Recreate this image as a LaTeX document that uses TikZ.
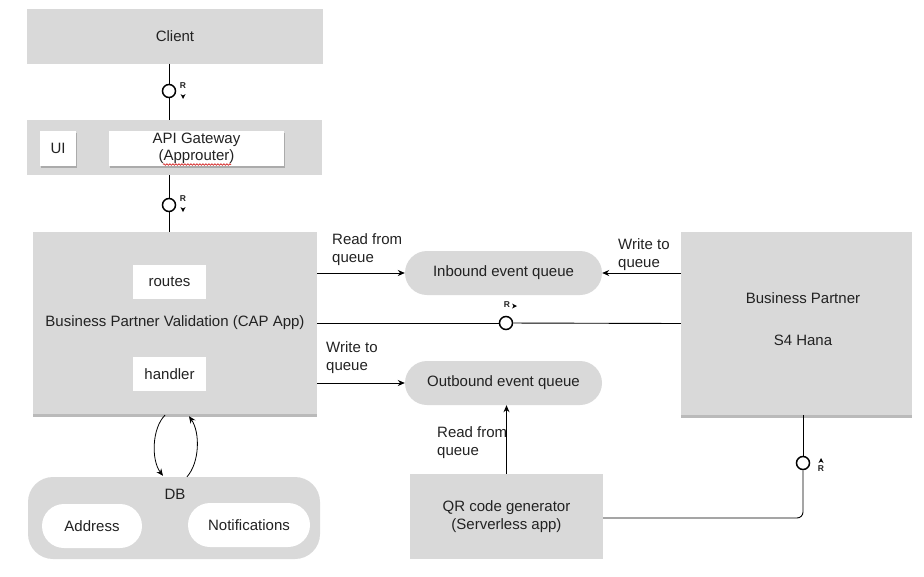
\documentclass[tikz,border=0pt]{standalone}
\usepackage{fontspec}
\setmainfont{Liberation Sans}
\usetikzlibrary{arrows.meta,shadows,calc,decorations.pathmorphing}
\definecolor{boxgray}{HTML}{D9D9D9}
\definecolor{txt}{HTML}{222222}
\begin{document}
\begin{tikzpicture}[x=1pt,y=-1pt,
  font=\fontsize{15}{18}\selectfont, text=txt,
  box/.style={fill=boxgray, draw=none, inner sep=0pt, align=center},
  shbox/.style={box, drop shadow={shadow xshift=0pt, shadow yshift=-3pt, opacity=0.45, fill=black!60}},
  wbox/.style={fill=white, draw=none, inner sep=0pt, align=center,
     drop shadow={shadow xshift=1pt, shadow yshift=-2pt, opacity=0.4, fill=black!60}},
  pill/.style={box, rounded corners=22pt},
  wpill/.style={fill=white, draw=none, inner sep=0pt, rounded corners=22pt, align=center},
  conn/.style={draw=black, line width=0.9pt},
  arr/.style={conn, -{Stealth[length=7pt,width=6pt]}},
  ring/.style={circle, draw=black, line width=1.5pt, fill=white, minimum size=13pt, inner sep=0pt},
  rlab/.style={font=\fontsize{8.5}{8.5}\selectfont\bfseries, inner sep=0pt},
  lbl/.style={align=left, anchor=north west, inner sep=0pt}
]
\useasboundingbox (0,0) rectangle (924,576);

% main boxes
\node[box, minimum width=296pt, minimum height=55pt] (client) at (175,36) {Client};
\node[box, minimum width=295pt, minimum height=55pt] (gwc) at (174.5,147.5) {};
\node[wbox, minimum width=36pt, minimum height=35pt] (ui) at (58,148.5) {UI};
\node[wbox, minimum width=175pt, minimum height=35pt] (api) at (196.5,148.5) {API Gateway\\[-1pt](Approuter)};
\draw[red!80!black, line width=0.6pt, decorate, decoration={snake, amplitude=0.8pt, segment length=3pt}] (163,164.5) -- (231,164.5);

\node[shbox, minimum width=284pt, minimum height=182pt] (cap) at (175,323) {Business Partner Validation (CAP App)};
\node[box, fill=white, minimum width=73pt, minimum height=34pt] (routes) at (169.5,282) {routes};
\node[box, fill=white, minimum width=73pt, minimum height=34pt] (handler) at (169.5,374) {handler};

\node[pill, minimum width=197pt, minimum height=44pt] (inb) at (503.5,273) {Inbound event queue};
\node[pill, minimum width=197pt, minimum height=44pt] (outb) at (503.5,383) {Outbound event queue};

\node[shbox, minimum width=231pt, minimum height=183pt] (bp) at (796.5,323.5) {};
\node[align=center, inner sep=0pt] (bpt) at (803,319.5) {Business Partner\\[24pt]S4 Hana};

\node[box, minimum width=193pt, minimum height=85pt] (qr) at (506.5,516.5) {QR code generator\\(Serverless app)};

\node[box, rounded corners=25pt, minimum width=292pt, minimum height=82pt] (db) at (174,518) {};
\node[inner sep=0pt] (dbt) at (175,494) {DB};
\node[wpill, minimum width=100pt, minimum height=44pt] (addr) at (92,526) {Address};
\node[wpill, minimum width=122pt, minimum height=44pt] (notif) at (249,525) {Notifications};

% rings
\node[ring] (r1) at (169,91) {};
\node[ring] (r2) at (169,205) {};
\node[ring] (r3) at (506,323) {};
\node[ring] (r4) at (803,463) {};

% connectors
\draw[conn] (r1 |- client.south) -- (r1);
\draw[conn] (r1) -- (r1 |- gwc.north);
\draw[conn] (r2 |- gwc.south) -- (r2);
\draw[conn] (r2) -- (r2 |- cap.north);

\draw[arr] (cap.east |- inb.west) -- (inb.west);
\draw[arr] (bp.west |- inb.east) -- (inb.east);
\draw[conn] (cap.east) -- (r3);
\draw[conn] (r3) -- (bp.west);
\draw[arr] (cap.east |- outb.west) -- (outb.west);
\draw[arr] (qr.north) -- (qr.north |- outb.south);
\draw[conn, rounded corners=6pt] ($(qr.east)+(0,1.5)$) -| (r4);
\draw[conn] (r4) -- (r4 |- bp.south);

\draw[arr, line width=0.8pt] ($(cap.south)+(-10,1)$) .. controls (152,428) and (151,460) .. ($(db.north)+(-11,-1)$);
\draw[arr, line width=0.8pt] ($(db.north)+(13,0)$) .. controls (200,462) and (200,432) .. ($(cap.south)+(14,2)$);

% R marks
\node[rlab] (rl1) at (183,86) {R};
\fill (180.5,94) -- (183,99) -- (185.5,94) -- (183,95.5) -- cycle;
\node[rlab] (rl2) at (183,199) {R};
\fill (180.5,207) -- (183,212) -- (185.5,207) -- (183,208.5) -- cycle;
\node[rlab] (rl3) at (507,305) {R};
\fill (512,303.5) -- (517,306) -- (512,308.5) -- (513.5,306) -- cycle;
\node[rlab] (rl4) at (821,469) {R};
\fill (818.5,463) -- (821,458) -- (823.5,463) -- (821,461.5) -- cycle;

% labels
\node[lbl] (l1) at (332,233) {Read from\\queue};
\node[lbl] (l2) at (618,238) {Write to\\queue};
\node[lbl] (l3) at (326,341) {Write to\\queue};
\node[lbl] (l4) at (437,426) {Read from\\queue};
\end{tikzpicture}
\end{document}
